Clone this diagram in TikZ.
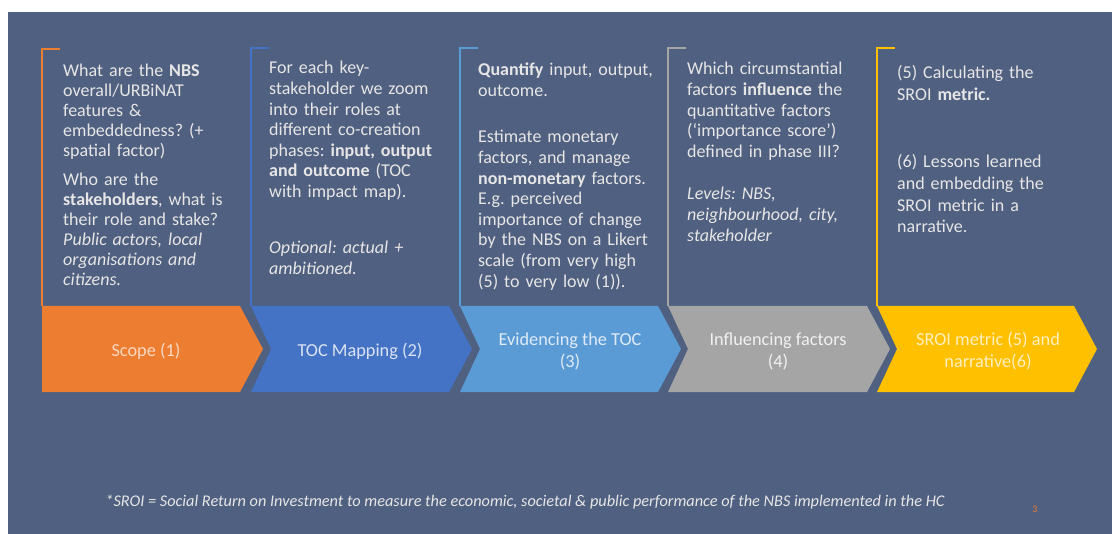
\documentclass[tikz,border=0pt]{standalone}
\usepackage{fontspec}
\setmainfont{Carlito}
\definecolor{bg}{HTML}{4F6080}
\definecolor{corange}{HTML}{ED7D31}
\definecolor{cblue}{HTML}{4472C4}
\definecolor{clight}{HTML}{5B9BD5}
\definecolor{cgray}{HTML}{A5A5A5}
\definecolor{cgold}{HTML}{FFC000}
\definecolor{txt}{HTML}{E7E6E6}
\tikzset{
  body/.style={font=\fontsize{18}{20.6}\selectfont\frenchspacing, text=txt, anchor=base west, align=left, inner sep=0pt, text width=210pt},
  body1/.style={body, font=\fontsize{18}{20}\selectfont\frenchspacing},
  body5/.style={body, font=\fontsize{18}{21.6}\selectfont\frenchspacing},
  lab/.style={font=\fontsize{18.3}{22}\selectfont, align=center, inner sep=0pt},
  bracket/.style={line width=1.3pt},
}
\begin{document}
\begin{tikzpicture}[x=1pt,y=-1pt]
\useasboundingbox (0,0) rectangle (1113,534);
\fill[white] (0,0) rectangle (1113,534);
\fill[bg] (8,12) rectangle (1112,534);
% chevrons
\fill[corange] (42,306) -- (240,306) -- (263,349) -- (240,392) -- (42,392) -- cycle;
\fill[cblue] (251,306) -- (449,306) -- (472,349) -- (449,392) -- (251,392) -- (271,349) -- cycle;
\fill[clight] (460,306) -- (658,306) -- (681,349) -- (658,392) -- (460,392) -- (480,349) -- cycle;
\fill[cgray] (668,306) -- (867,306) -- (890,349) -- (867,392) -- (668,392) -- (688,349) -- cycle;
\fill[cgold] (877,306) -- (1074,306) -- (1097,349) -- (1074,392) -- (877,392) -- (897,349) -- cycle;
% brackets
\draw[corange, bracket] (60,49) -- (42,49) -- (42,306);
\draw[cblue, bracket] (269,48) -- (251,48) -- (251,306);
\draw[clight, bracket] (478,48) -- (460,48) -- (460,306);
\draw[cgray, bracket] (686,48) -- (668,48) -- (668,306);
\draw[cgold, bracket] (895,48) -- (877,48) -- (877,306);
% labels
\node[lab, text=white!70!corange] (l1) at (146,351) {Scope (1)};
\node[lab, text=white!80!cblue] (l2) at (360,351) {TOC Mapping (2)};
\node[lab, text=white!80!clight] (l3) at (570,351) {Evidencing the TOC\\(3)};
\node[lab, text=white!85!cgray] (l4) at (778,351) {Influencing factors\\(4)};
\node[lab, text=white!75!cgold] (l5) at (988,351) {SROI metric (5) and\\narrative(6)};
% texts
\node[body1] (t1a) at (63,77) {What are the \textbf{NBS}\\ overall/URBiNAT\\ features \&\\ embeddedness? (+\\ spatial factor)};
\node[body1] (t1b) at (63,186) {Who are the\\ \textbf{stakeholders}, what is\\ their role and stake?\\ \textit{Public actors, local}\\ \textit{organisations and}\\ \textit{citizens.}};
\node[body] (t2a) at (269,74) {For each key-\\ stakeholder we zoom\\ into their roles at\\ different co-creation\\ phases: \textbf{input, output}\\ \textbf{and outcome} (TOC\\ with impact map).};
\node[body] (t2b) at (269,254) {\textit{Optional: actual +}\\ \textit{ambitioned.}};
\node[body] (t3a) at (478,76) {\textbf{Quantify} input, output,\\ outcome.};
\node[body] (t3b) at (478,143) {Estimate monetary\\ factors, and manage\\ \textbf{non-monetary} factors.\\ E.g. perceived\\ importance of change\\ by the NBS on a Likert\\ scale (from very high\\ (5) to very low (1)).};
\node[body] (t4a) at (687,75) {Which circumstantial\\ factors \textbf{influence} the\\ quantitative factors\\ (‘importance score’)\\ defined in phase III?};
\node[body] (t4b) at (687,200) {\textit{Levels: NBS,}\\ \textit{neighbourhood, city,}\\ \textit{stakeholder}};
\node[body5] (t5a) at (897,79) {(5) Calculating the\\ SROI \textbf{metric.}};
\node[body5] (t5b) at (897,168) {(6) Lessons learned\\ and embedding the\\ SROI metric in a\\ narrative.};
% footnote
\node[font=\fontsize{16.3}{18}\selectfont\itshape, text=txt, anchor=base, inner sep=0pt] (fn) at (525,506) {*SROI = Social Return on Investment to measure the economic, societal \& public performance of the NBS implemented in the HC};
\node[font=\fontsize{10}{12}\selectfont, text=corange, inner sep=0pt] (pg) at (1035,509) {3};
\end{tikzpicture}
\end{document}
